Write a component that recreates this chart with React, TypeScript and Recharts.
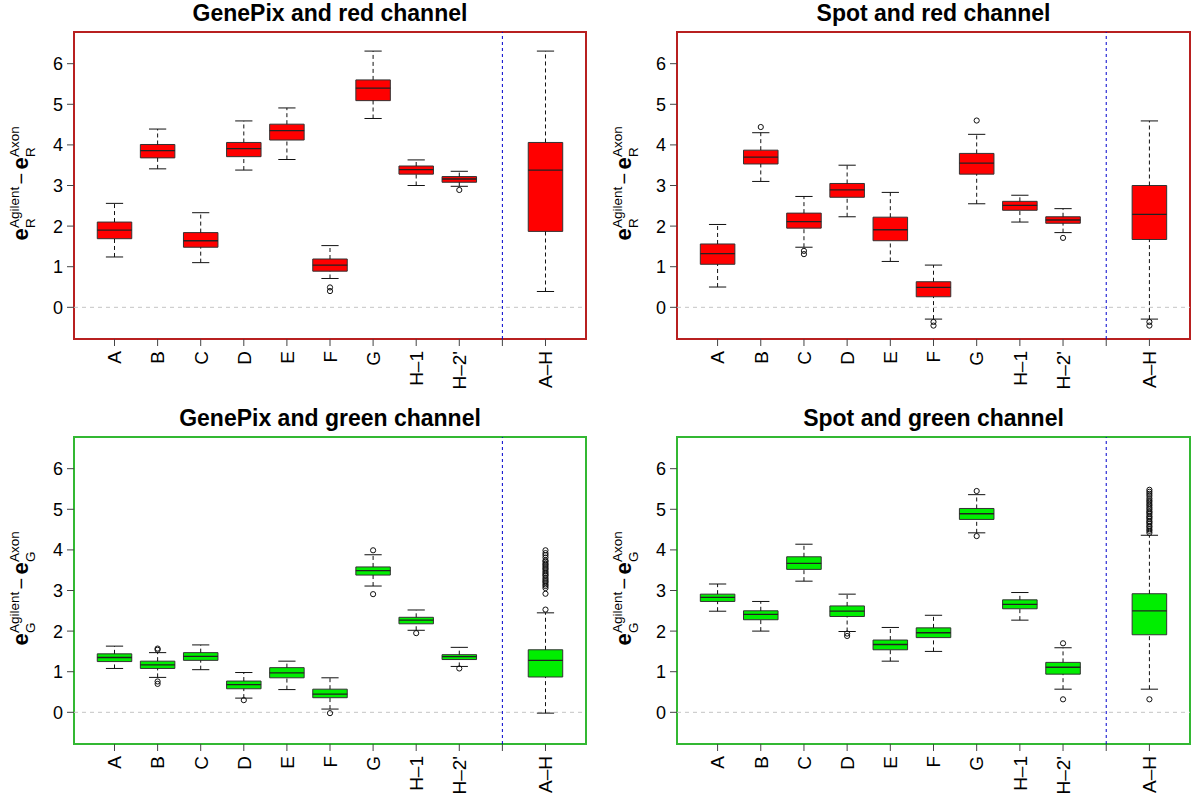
import React from "react";
import { ComposedChart, XAxis, YAxis, Scatter, ReferenceArea, ReferenceLine } from "recharts";

const categories = ["A", "B", "C", "D", "E", "F", "G", "H–1", "H–2'", "A–H"];
const positions = [1, 2, 3, 4, 5, 6, 7, 8, 9, 11];
const separatorAt = 10;
const yTicks = [0, 1, 2, 3, 4, 5, 6];

// [lower whisker, q1, median, q3, upper whisker] per category
const genepixRed = [
  [1.24, 1.69, 1.9, 2.1, 2.56],
  [3.41, 3.68, 3.86, 4.01, 4.39],
  [1.1, 1.48, 1.64, 1.84, 2.33],
  [3.38, 3.71, 3.91, 4.06, 4.59],
  [3.64, 4.12, 4.35, 4.51, 4.91],
  [0.71, 0.89, 1.04, 1.19, 1.52],
  [4.65, 5.09, 5.4, 5.6, 6.31],
  [3.0, 3.28, 3.39, 3.48, 3.63],
  [2.98, 3.08, 3.16, 3.22, 3.35],
  [0.39, 1.87, 3.38, 4.06, 6.31],
];
// [category index, value]
const genepixRedOut = [[5, 0.49], [5, 0.4], [8, 2.89]];

const spotRed = [
  [0.5, 1.06, 1.32, 1.56, 2.04],
  [3.1, 3.53, 3.7, 3.87, 4.3],
  [1.48, 1.95, 2.11, 2.32, 2.73],
  [2.23, 2.71, 2.89, 3.05, 3.5],
  [1.13, 1.64, 1.91, 2.22, 2.83],
  [-0.29, 0.26, 0.49, 0.63, 1.04],
  [2.55, 3.28, 3.55, 3.79, 4.26],
  [2.1, 2.39, 2.51, 2.61, 2.76],
  [1.84, 2.07, 2.15, 2.23, 2.43],
  [-0.29, 1.67, 2.29, 3.0, 4.59],
];
const spotRedOut = [
  [1, 4.44], [2, 1.39], [2, 1.31], [5, -0.36], [5, -0.45],
  [6, 4.6], [8, 1.71], [9, -0.36], [9, -0.45],
];

const genepixGreen = [
  [1.08, 1.25, 1.35, 1.44, 1.63],
  [0.86, 1.08, 1.17, 1.26, 1.47],
  [1.05, 1.28, 1.38, 1.47, 1.66],
  [0.35, 0.58, 0.68, 0.77, 0.98],
  [0.56, 0.85, 0.97, 1.1, 1.26],
  [0.08, 0.36, 0.45, 0.57, 0.85],
  [3.11, 3.38, 3.49, 3.58, 3.88],
  [2.02, 2.18, 2.27, 2.34, 2.52],
  [1.13, 1.3, 1.37, 1.42, 1.6],
  [-0.02, 0.87, 1.28, 1.54, 2.45],
];
const genepixGreenOut = [
  [1, 1.57], [1, 1.54], [1, 0.76], [1, 0.7], [3, 0.3], [5, -0.02],
  [6, 3.99], [6, 2.91], [7, 1.95], [8, 1.08],
  [9, 2.53], [9, 2.92], [9, 3.06], [9, 3.11], [9, 3.15], [9, 3.2], [9, 3.23],
  [9, 3.27], [9, 3.31], [9, 3.36], [9, 3.39], [9, 3.43], [9, 3.47], [9, 3.52],
  [9, 3.55], [9, 3.59], [9, 3.63], [9, 3.66], [9, 3.71], [9, 3.74], [9, 3.81],
  [9, 3.87], [9, 3.92], [9, 3.99],
];

const spotGreen = [
  [2.49, 2.73, 2.83, 2.91, 3.16],
  [2.0, 2.28, 2.41, 2.5, 2.73],
  [3.23, 3.52, 3.67, 3.83, 4.14],
  [1.99, 2.36, 2.49, 2.62, 2.91],
  [1.26, 1.54, 1.67, 1.78, 2.09],
  [1.5, 1.84, 1.96, 2.08, 2.39],
  [4.42, 4.75, 4.89, 5.02, 5.36],
  [2.27, 2.55, 2.66, 2.77, 2.95],
  [0.57, 0.94, 1.11, 1.23, 1.59],
  [0.57, 1.91, 2.5, 2.92, 4.36],
];
const spotGreenOut = [
  [3, 1.94], [3, 1.88], [6, 5.45], [6, 4.34], [8, 1.7], [8, 0.32],
  [9, 0.32], [9, 4.42], [9, 4.47], [9, 4.51], [9, 4.56], [9, 4.59], [9, 4.64],
  [9, 4.68], [9, 4.71], [9, 4.76], [9, 4.8], [9, 4.83], [9, 4.88], [9, 4.92],
  [9, 4.95], [9, 5.0], [9, 5.04], [9, 5.09], [9, 5.13], [9, 5.18], [9, 5.22],
  [9, 5.27], [9, 5.33], [9, 5.38], [9, 5.43], [9, 5.48],
];

const FONT = "'Liberation Sans', Arial, Helvetica, sans-serif";
const xDomain = [0.06, 11.94];
const yDomain = [-0.78, 6.78];
const halfBox = 0.4;
const halfCap = 0.2;

function XTick(props: any) {
  const { x, y, payload } = props;
  const idx = positions.indexOf(payload.value);
  const label = idx >= 0 ? categories[idx] : "";
  return (
    <text
      transform={`translate(${x + 6.8},${y}) rotate(-90)`}
      textAnchor="end"
      fontSize={19}
      fontFamily={FONT}
      fill="#000"
    >
      {label}
    </text>
  );
}

function YTick(props: any) {
  const { x, y, payload } = props;
  return (
    <text x={x} y={y} dy={6.5} textAnchor="end" fontSize={18} fontFamily={FONT} fill="#000">
      {payload.value}
    </text>
  );
}

function YLabel({ ch }: { ch: string }) {
  // e_ch^Agilent - e_ch^Axon, read bottom to top
  const total = 110;
  return (
    <svg style={{ position: "absolute", left: 0, top: 0 }} width={74} height={400}>
      <g transform={`translate(28,${185.5 + total / 2}) rotate(-90)`} fontFamily={FONT} fill="#000">
        <text x={0} y={0} fontSize={22} fontWeight="bold">e</text>
        <text x={12.5} y={7} fontSize={13.5}>{ch}</text>
        <text x={12.5} y={-9.5} fontSize={13.5}>Agilent</text>
        <text x={56} y={0} fontSize={20}>−</text>
        <text x={71} y={0} fontSize={22} fontWeight="bold">e</text>
        <text x={83.5} y={7} fontSize={13.5}>{ch}</text>
        <text x={83.5} y={-9.5} fontSize={13.5}>Axon</text>
      </g>
    </svg>
  );
}

interface PanelProps {
  title: string;
  ch: string;
  boxes: number[][];
  outliers: number[][];
  fill: string;
  frame: string;
  left: number;
  top: number;
  width: number;
  marginRight: number;
}

function Panel({ title, ch, boxes, outliers, fill, frame, left, top, width, marginRight }: PanelProps) {
  const points = outliers.map(([i, v]) => ({ x: positions[i], y: v }));
  const plotW = width - 74 - marginRight;
  return (
    <div style={{ position: "absolute", left, top, width, height: 400 }}>
      <div
        style={{
          position: "absolute",
          left: 74,
          width: plotW,
          top: 2,
          textAlign: "center",
          fontFamily: FONT,
          fontWeight: "bold",
          fontSize: 23,
          lineHeight: "23px",
        }}
      >
        {title}
      </div>
      <YLabel ch={ch} />
      <div style={{ position: "absolute", left: 0, top: 0 }}>
        <ComposedChart width={width} height={400} margin={{ top: 32, right: marginRight, bottom: 0, left: 0 }}>
          <XAxis
            type="number"
            dataKey="x"
            domain={xDomain}
            allowDataOverflow
            ticks={[...positions.slice(0, 9), separatorAt, positions[9]]}
            interval={0}
            height={61}
            axisLine={false}
            tickSize={7}
            tickMargin={5}
            tickLine={{ stroke: "#444" }}
            tick={<XTick />}
          />
          <YAxis
            type="number"
            dataKey="y"
            domain={yDomain}
            allowDataOverflow
            ticks={yTicks}
            interval={0}
            width={74}
            axisLine={false}
            tickSize={7}
            tickMargin={4}
            tickLine={{ stroke: "#444" }}
            tick={<YTick />}
          />
          <ReferenceLine y={0} stroke="#c4c4c4" strokeDasharray="4 4" />
          {boxes.map(([lo, q1, med, q3, hi], i) => {
            const p = positions[i];
            return (
              <React.Fragment key={i}>
                <ReferenceLine
                  segment={[{ x: p, y: q3 }, { x: p, y: hi }]}
                  stroke="#111"
                  strokeDasharray="4 3"
                />
                <ReferenceLine
                  segment={[{ x: p, y: lo }, { x: p, y: q1 }]}
                  stroke="#111"
                  strokeDasharray="4 3"
                />
                <ReferenceLine segment={[{ x: p - halfCap, y: hi }, { x: p + halfCap, y: hi }]} stroke="#111" />
                <ReferenceLine segment={[{ x: p - halfCap, y: lo }, { x: p + halfCap, y: lo }]} stroke="#111" />
                <ReferenceArea
                  x1={p - halfBox}
                  x2={p + halfBox}
                  y1={q1}
                  y2={q3}
                  fill={fill}
                  fillOpacity={1}
                  stroke="#333"
                  strokeWidth={1}
                />
                <ReferenceLine
                  segment={[{ x: p - halfBox, y: med }, { x: p + halfBox, y: med }]}
                  stroke="#222"
                  strokeWidth={1.3}
                />
              </React.Fragment>
            );
          })}
          <Scatter
            data={points}
            dataKey="y"
            isAnimationActive={false}
            shape={(s: any) => <circle cx={s.cx} cy={s.cy} r={2.6} fill="none" stroke="#111" strokeWidth={1} />}
          />
          <ReferenceLine x={separatorAt} stroke="#0000cc" strokeDasharray="3 3" />
          <ReferenceArea
            x1={xDomain[0]}
            x2={xDomain[1]}
            y1={yDomain[0]}
            y2={yDomain[1]}
            fill="none"
            stroke={frame}
            strokeWidth={2}
          />
        </ComposedChart>
      </div>
    </div>
  );
}

export default function App() {
  return (
    <div style={{ position: "absolute", left: 0, top: 0, width: 1197, height: 805, background: "#fff" }}>
      <Panel title="GenePix and red channel" ch="R" boxes={genepixRed} outliers={genepixRedOut}
        fill="#ff0000" frame="#b82020" left={0} top={0} width={600} marginRight={14} />
      <Panel title="Spot and red channel" ch="R" boxes={spotRed} outliers={spotRedOut}
        fill="#ff0000" frame="#b82020" left={603} top={0} width={594} marginRight={7} />
      <Panel title="GenePix and green channel" ch="G" boxes={genepixGreen} outliers={genepixGreenOut}
        fill="#00ee00" frame="#33b833" left={0} top={405} width={600} marginRight={14} />
      <Panel title="Spot and green channel" ch="G" boxes={spotGreen} outliers={spotGreenOut}
        fill="#00ee00" frame="#33b833" left={603} top={405} width={594} marginRight={7} />
    </div>
  );
}
